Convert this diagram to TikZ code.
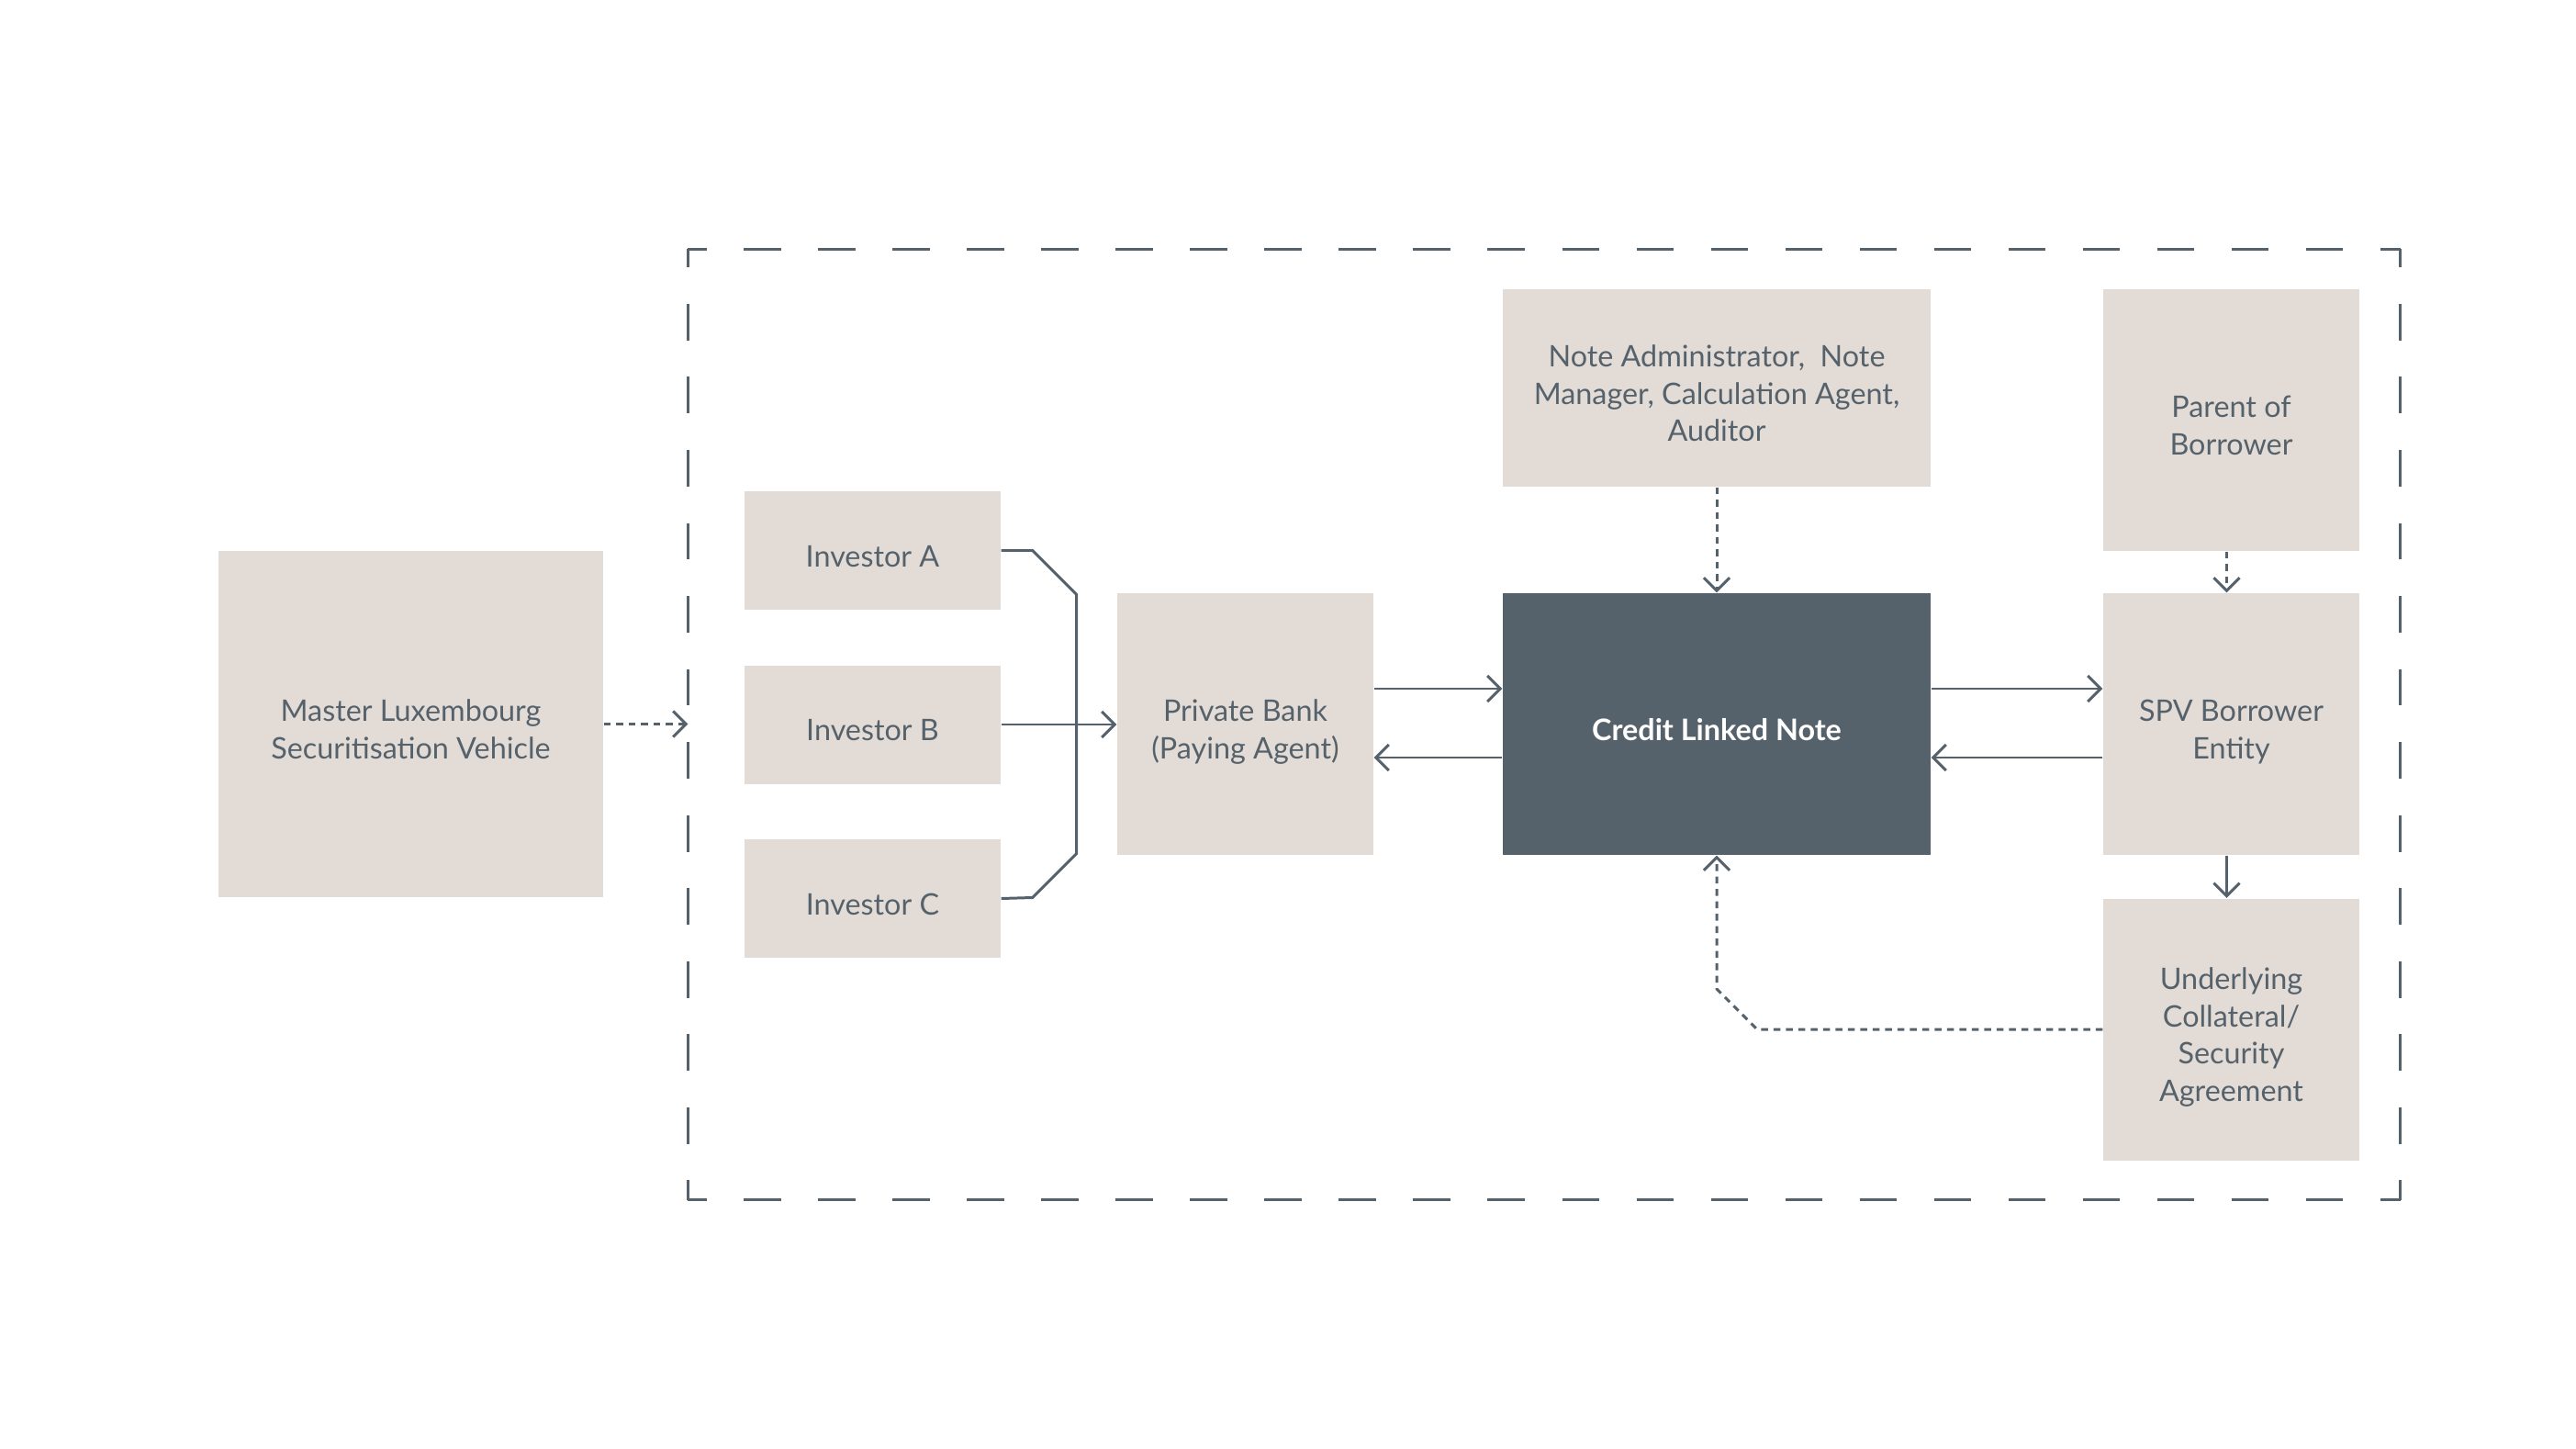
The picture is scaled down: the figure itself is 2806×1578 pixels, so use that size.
\documentclass[tikz,border=0pt]{standalone}
\usepackage{fontspec}
\setmainfont{Lato}
\usetikzlibrary{arrows.meta,calc}
\definecolor{boxfill}{HTML}{E3DCD6}
\definecolor{ink}{HTML}{56626B}

\begin{document}
\begin{tikzpicture}[
    x=0.1mm, y=-0.1mm,
    box/.style={fill=boxfill, text=ink, align=center, inner sep=0pt,
                text height=10pt, text depth=0pt,
                font=\fontsize{9.2}{11.6}\selectfont},
    twolines/.style={text height=21.6pt},
    threelines/.style={text height=33.2pt},
    fourlines/.style={text height=44.8pt},
    smallbox/.style={box, minimum width=27.9mm, minimum height=28.5mm},
    investor/.style={box, minimum width=27.9mm, minimum height=12.9mm},
    note/.style={box, fill=ink, text=white, font=\fontsize{9.2}{11.6}\selectfont\bfseries},
    framex/.style={draw=ink, line width=0.85pt, dash pattern=on 4.052mm off 4.052mm, dash phase=2.026mm},
    framey/.style={draw=ink, line width=0.85pt, dash pattern=on 3.977mm off 3.977mm, dash phase=1.988mm},
    link/.style={draw=ink, line width=0.85pt},
    flow/.style={link, -{Straight Barb[length=1.4mm, width=2.8mm, line width=0.85pt]}},
    dotflow/.style={flow, dash pattern=on 0.75mm off 0.6mm}
]
    \useasboundingbox (0,0) rectangle (2806,1578);

    % Dashed frame
    \node[minimum width=186.4mm, minimum height=103.4mm, inner sep=0pt] (frame) at (1682,789) {};
    \draw[framex] (frame.north west) -- (frame.north east);
    \draw[framex] (frame.south west) -- (frame.south east);
    \draw[framey] (frame.north west) -- (frame.south west);
    \draw[framey] (frame.north east) -- (frame.south east);

    % Outside vehicle
    \node[box, twolines, minimum width=41.9mm, minimum height=37.7mm] (master) at (447.5,788.5)
        {Master Luxembourg\\Securitisation Vehicle};

    % Investors
    \node[investor] (invA) at (950.5,599.5) {Investor A};
    \node[investor] (invB) at (950.5,789) {Investor B};
    \node[investor] (invC) at (950.5,978.5) {Investor C};

    % Main entities
    \node[smallbox, twolines] (bank) at (1356.5,788.5) {Private Bank\\(Paying Agent)};
    \node[note, minimum width=46.6mm, minimum height=28.5mm] (cln) at (1870,788.5) {Credit Linked Note};
    \node[box, threelines, minimum width=46.6mm, minimum height=21.5mm] (admin) at (1870,422.5)
        {Note Administrator,~ Note\\Manager, Calculation Agent,\\Auditor};
    \node[smallbox, twolines] (parent) at (2430.5,457.5) {Parent of\\Borrower};
    \node[smallbox, twolines] (spv) at (2430.5,788.5) {SPV Borrower\\Entity};
    \node[smallbox, fourlines] (under) at (2430.5,1121) {Underlying\\Collateral/\\Security\\Agreement};

    % Master into frame
    \draw[dotflow] (master.east) -- (master.east -| frame.west);

    % Investor bracket
    \draw[link] (invA.east) -- ++(34,0) -- ++(48,48) -- ++(0,282) -- ++(-48,48) -- (invC.east);
    \draw[flow] (invB.east) -- (invB.east -| bank.west);

    % Payment flows
    \draw[flow] ([yshift=3.85mm]bank.east) -- ([yshift=3.85mm]cln.west);
    \draw[flow] ([yshift=-3.65mm]cln.west) -- ([yshift=-3.65mm]bank.east);
    \draw[flow] ([yshift=3.85mm]cln.east) -- ([yshift=3.85mm]spv.west);
    \draw[flow] ([yshift=-3.65mm]spv.west) -- ([yshift=-3.65mm]cln.east);

    % Service and group links
    \draw[dotflow] (admin.south) -- (cln.north);
    \draw[dotflow] ([xshift=-0.5mm]parent.south) -- ([xshift=-0.5mm]spv.north);
    \draw[flow] ([xshift=-0.5mm]spv.south) -- ([xshift=-0.5mm]under.north);

    % Collateral back to note
    \draw[dotflow] (under.west) -- ($(cln.south |- under.west)+(44,0)$) -- ++(-44,-44) -- (cln.south);
\end{tikzpicture}
\end{document}
